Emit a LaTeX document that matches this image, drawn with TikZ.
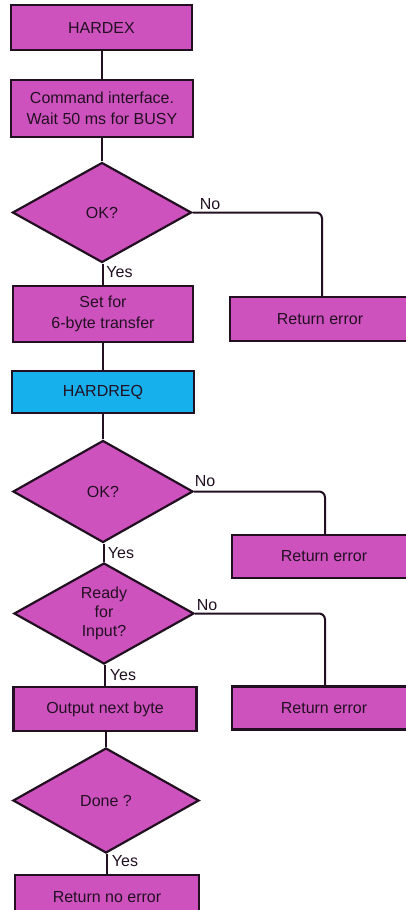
\documentclass[tikz,border=0pt]{standalone}
\usepackage{fontspec}
\setmainfont{Liberation Sans}
\usetikzlibrary{shapes.geometric}
\definecolor{fcpink}{RGB}{206,82,190}
\definecolor{fcblue}{RGB}{22,176,236}
\definecolor{fcink}{RGB}{34,16,34}
\tikzset{
  procbox/.style={rectangle, draw=fcink, line width=2.4pt, fill=fcpink,
    inner sep=0pt, text=fcink, align=center,
    font=\fontsize{16}{21}\selectfont},
  callbox/.style={procbox, fill=fcblue},
  decision/.style={diamond, draw=fcink, line width=2.2pt, fill=fcpink,
    inner sep=0pt, text=fcink, align=center,
    font=\fontsize{16}{19}\selectfont},
  flow/.style={draw=fcink, line width=2pt},
  branch/.style={inner sep=0pt, text=fcink, font=\fontsize{16}{19}\selectfont},
}
\begin{document}
\begin{tikzpicture}[x=1pt,y=-1pt]
  \path[use as bounding box] (0,0) rectangle (406,910);
  \clip (0,0) rectangle (406,910);
  \fill[white] (0,0) rectangle (406,910);

  % main column
  \node[procbox, minimum width=181pt, minimum height=45pt] (hardex) at (101.5,27.5) {HARDEX};
  \node[procbox, minimum width=182pt, minimum height=57pt] (cmd) at (102,108.5)
    {Command interface.\\Wait 50 ms for BUSY};
  \node[decision, minimum width=179pt, minimum height=100pt] (ok1) at (102,212.5) {OK?};
  \node[procbox, minimum width=180pt, minimum height=56pt] (set) at (103,314)
    {Set for\\6-byte transfer};
  \node[callbox, minimum width=182pt, minimum height=42pt] (hardreq) at (103,392) {HARDREQ};
  \node[decision, minimum width=180pt, minimum height=102pt] (ok2) at (103,491.5) {OK?};
  \node[decision, minimum width=180pt, minimum height=101pt] (ready) at (104,613.5)
    {Ready\\for\\Input?};
  \node[procbox, minimum width=183pt, minimum height=44pt] (out) at (105,709) {Output next byte};
  \node[decision, minimum width=186pt, minimum height=105pt] (done) at (106,800.5) {Done ?};
  \node[procbox, minimum width=184pt, minimum height=44pt] (retok) at (107,897) {Return no error};

  % error exits
  \node[procbox, minimum width=180pt, minimum height=44pt] (err1) at (320,319) {Return error};
  \node[procbox, minimum width=184pt, minimum height=43pt] (err2) at (324,556.5) {Return error};
  \node[procbox, minimum width=184pt, minimum height=43pt] (err3) at (324,708) {Return error};

  % straight flow down the column
  \draw[flow] (hardex.south) -- (hardex.south |- cmd.north);
  \draw[flow] (ok1.north) -- (ok1.north |- cmd.south);
  \draw[flow] (set.north) -- (set.north |- ok1.south);
  \draw[flow] (hardreq.north) -- (hardreq.north |- set.south);
  \draw[flow] (ok2.north) -- (ok2.north |- hardreq.south);
  \draw[flow] (ready.north) -- (ready.north |- ok2.south);
  \draw[flow] (out.north) -- (out.north |- ready.south);
  \draw[flow] (done.north) -- (done.north |- out.south);
  \draw[flow] (retok.north) -- (retok.north |- done.south);

  % "No" branches
  \draw[flow, rounded corners=6pt] (ok1.east) -| ([xshift=2pt]err1.north);
  \draw[flow, rounded corners=6pt] (ok2.east) -| ([xshift=1pt]err2.north);
  \draw[flow, rounded corners=6pt] (ready.east) -| ([xshift=1pt]err3.north);

  % branch labels
  \node[branch] (no1) at (210,204) {No};
  \node[branch] (yes1) at (119.5,272) {Yes};
  \node[branch] (no2) at (205,481) {No};
  \node[branch] (yes2) at (121,553) {Yes};
  \node[branch] (no3) at (207,605) {No};
  \node[branch] (yes3) at (123,675) {Yes};
  \node[branch] (yes4) at (125,861) {Yes};
\end{tikzpicture}
\end{document}
